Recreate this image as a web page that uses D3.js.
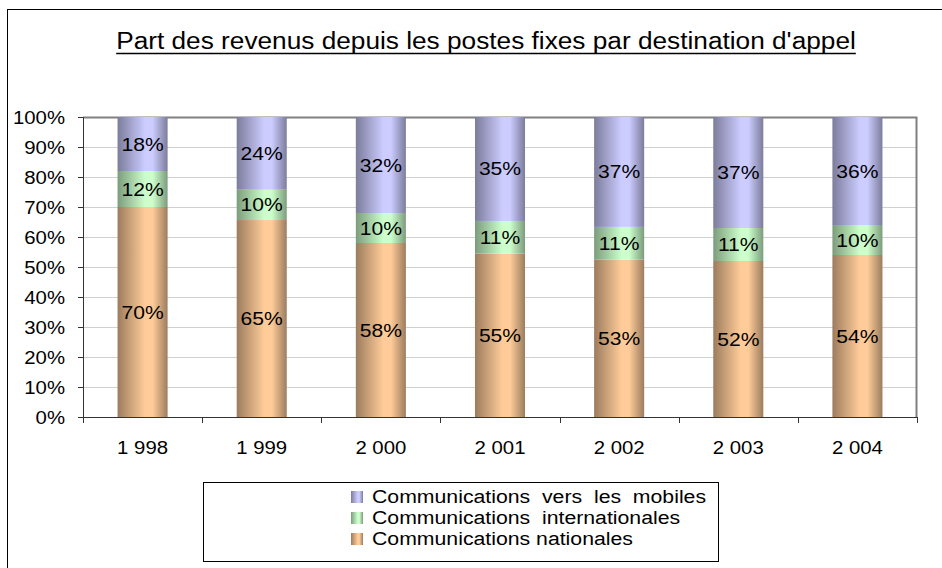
<!DOCTYPE html>
<html>
<head>
<meta charset="utf-8">
<script src="https://cdn.jsdelivr.net/npm/d3@7"></script>
<style>
  body { margin: 0; background: #fff; }
  svg { display: block; font-family: "Liberation Sans", Arial, sans-serif; }
</style>
</head>
<body>
<div class="chart"></div>
<script>
// data
var years = ["1 998", "1 999", "2 000", "2 001", "2 002", "2 003", "2 004"];
var nationales = [70, 65, 58, 55, 53, 52, 54];
var internationales = [12, 10, 10, 11, 11, 11, 10];
var mobiles = [18, 24, 32, 35, 37, 37, 36];
var seriesNames = ["Communications nationales", "Communications  internationales", "Communications  vers  les  mobiles"];
var yTicks = [0, 0.1, 0.2, 0.3, 0.4, 0.5, 0.6, 0.7, 0.8, 0.9, 1];

var svgWidth = 942, svgHeight = 568;
var margin = { top: 117, left: 83, right: 25, bottom: 151 };
var width = svgWidth - margin.left - margin.right;
var height = svgHeight - margin.top - margin.bottom;

// the original text is a little wider than Arial, stretch it horizontally
function stretch(sel, factor) {
  sel.each(function() {
    var w = this.getComputedTextLength();
    d3.select(this).attr("textLength", w * factor).attr("lengthAdjust", "spacingAndGlyphs");
  });
}

var svg = d3.select(".chart").append("svg")
  .attr("width", svgWidth)
  .attr("height", svgHeight);

// gradients for the bar look
var defs = svg.append("defs");
var colours = [
  { id: "gNat", light: "#ffcc99", dark: "#9c7c5e" },
  { id: "gInt", light: "#ccffcc", dark: "#7c9c7c" },
  { id: "gMob", light: "#ccccff", dark: "#7c7c9c" }
];
colours.forEach(function(c) {
  var g = defs.append("linearGradient").attr("id", c.id)
    .attr("x1", "0%").attr("x2", "100%").attr("y1", "0%").attr("y2", "0%");
  g.append("stop").attr("offset", "0%").attr("stop-color", c.dark);
  g.append("stop").attr("offset", "55%").attr("stop-color", c.light);
  g.append("stop").attr("offset", "70%").attr("stop-color", c.light);
  g.append("stop").attr("offset", "100%").attr("stop-color", c.dark);
});

// outer frame
svg.append("rect")
  .attr("x", 7.5).attr("y", 9.5)
  .attr("width", 945).attr("height", 570)
  .attr("fill", "none").attr("stroke", "#000").attr("stroke-width", 1);

// title
var title = svg.append("text")
  .attr("x", 486).attr("y", 49)
  .attr("text-anchor", "middle")
  .attr("font-size", "23px")
  .attr("fill", "#000")
  .text("Part des revenus depuis les postes fixes par destination d'appel");
stretch(title, 1.14);
var tb = title.node().getBBox();
svg.append("line")
  .attr("x1", tb.x).attr("x2", tb.x + tb.width)
  .attr("y1", 53.5).attr("y2", 53.5)
  .attr("stroke", "#000").attr("stroke-width", 1.6);

var chartGroup = svg.append("g")
  .attr("transform", `translate(${margin.left}, ${margin.top})`);

var x = d3.scaleBand().domain(years).range([0, width]).paddingInner(0.58).paddingOuter(0.29);
var xBand = d3.scaleBand().domain(years).range([0, width]);
var y = d3.scaleLinear().domain([0, 1]).range([height, 0]);

// gridlines
chartGroup.selectAll(".grid").data(yTicks.slice(1, -1)).enter()
  .append("line")
  .attr("x1", 0).attr("x2", width)
  .attr("y1", d => Math.round(y(d)) + 0.5).attr("y2", d => Math.round(y(d)) + 0.5)
  .attr("stroke", "#d0d0d0");

// plot area frame (top, right)
chartGroup.append("path")
  .attr("d", `M0,0.5H${width - 0.5}V${height}`)
  .attr("fill", "none").attr("stroke", "#808080").attr("stroke-width", 2);

// stacked data (100 % stacked)
var table = years.map(function(yr, i) {
  var total = nationales[i] + internationales[i] + mobiles[i];
  return { year: yr, nat: nationales[i] / total, int: internationales[i] / total, mob: mobiles[i] / total,
           raw: [nationales[i], internationales[i], mobiles[i]] };
});
var stack = d3.stack().keys(["nat", "int", "mob"]);
var layers = stack(table);

layers.forEach(function(layer, li) {
  var g = chartGroup.append("g");
  g.selectAll("rect").data(layer).enter()
    .append("rect")
    .attr("x", d => x(d.data.year))
    .attr("width", x.bandwidth())
    .attr("y", d => y(d[1]))
    .attr("height", d => y(d[0]) - y(d[1]))
    .attr("fill", `url(#${colours[li].id})`);
  var labels = g.selectAll("text").data(layer).enter()
    .append("text")
    .attr("x", d => x(d.data.year) + x.bandwidth() / 2)
    .attr("y", d => (y(d[0]) + y(d[1])) / 2 + 6.5)
    .attr("text-anchor", "middle")
    .attr("font-size", "19px")
    .attr("fill", "#000")
    .text(d => d.data.raw[li] + "%");
  stretch(labels, 1.11);
});

// y axis
var yAxis = d3.axisLeft(y).tickValues(yTicks).tickFormat(d3.format(".0%")).tickSize(5);
var yg = chartGroup.append("g").call(yAxis);
yg.select(".domain").attr("stroke", "#333");
yg.selectAll(".tick line").attr("stroke", "#333");
var yLabels = yg.selectAll("text").attr("font-size", "18px").attr("fill", "#000")
  .attr("font-family", "Liberation Sans, Arial, sans-serif").attr("dy", "0.35em").attr("x", -18);
stretch(yLabels, 1.13);

// x axis with ticks on band edges
var xg = chartGroup.append("g").attr("transform", `translate(0, ${height})`);
xg.append("line").attr("x1", 0).attr("x2", width).attr("y1", 0.5).attr("y2", 0.5).attr("stroke", "#333");
var edges = years.map(d => xBand(d)).concat([width]);
xg.selectAll(".xt").data(edges).enter().append("line")
  .attr("x1", d => Math.round(d) + 0.5).attr("x2", d => Math.round(d) + 0.5)
  .attr("y1", 0).attr("y2", 6).attr("stroke", "#333");
var xLabels = xg.selectAll(".xl").data(years).enter().append("text")
  .attr("x", d => xBand(d) + xBand.bandwidth() / 2)
  .attr("y", 37)
  .attr("text-anchor", "middle")
  .attr("font-size", "18px")
  .attr("fill", "#000")
  .text(d => d);
stretch(xLabels, 1.13);

// legend
var legend = svg.append("g");
legend.append("rect")
  .attr("x", 203.5).attr("y", 482.5).attr("width", 515).attr("height", 79)
  .attr("fill", "#fff").attr("stroke", "#000");
var legendOrder = [2, 1, 0];
legendOrder.forEach(function(si, row) {
  var yy = 497 + row * 21;
  legend.append("rect")
    .attr("x", 351).attr("y", yy - 6).attr("width", 12).attr("height", 12)
    .attr("fill", `url(#${colours[si].id})`);
  var t = legend.append("text")
    .attr("x", 372).attr("y", yy + 6)
    .attr("font-size", "18px")
    .attr("fill", "#000")
    .attr("xml:space", "preserve")
    .style("white-space", "pre")
    .text(seriesNames[si]);
  stretch(t, 1.18);
});
</script>
</body>
</html>
